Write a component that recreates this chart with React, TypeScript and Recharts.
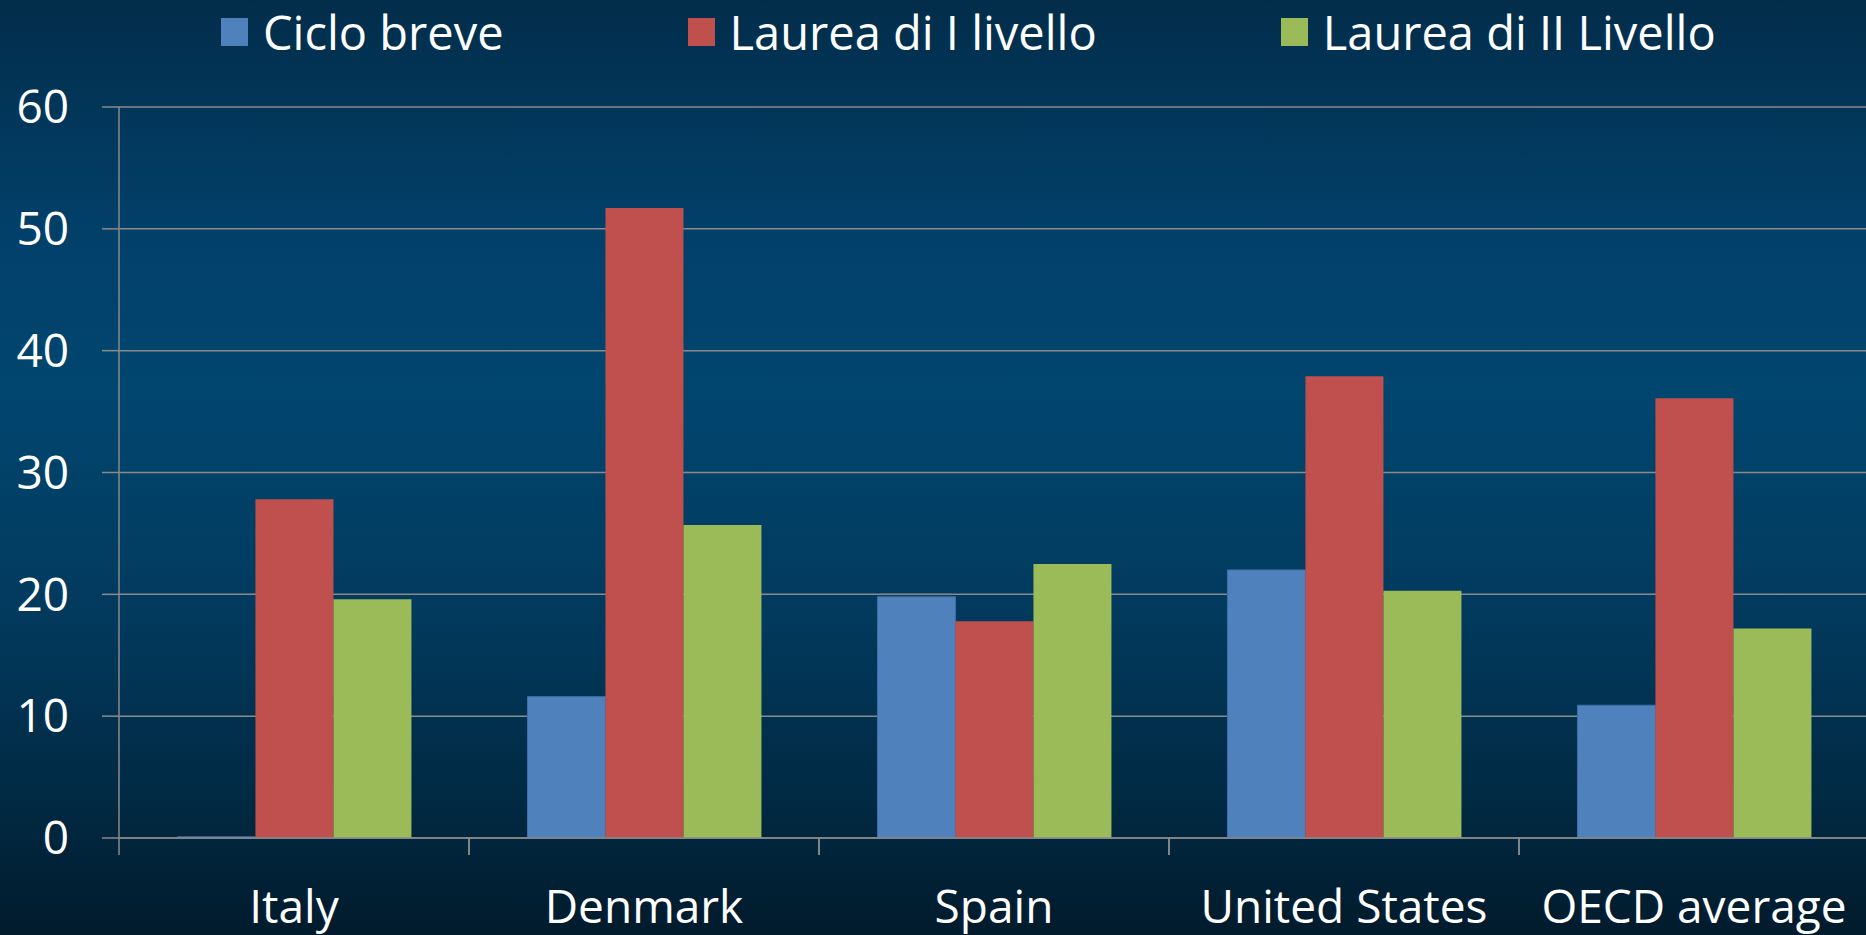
import { Bar, BarChart, CartesianGrid, Legend, XAxis, YAxis } from "recharts";

const countries = ["Italy", "Denmark", "Spain", "United States", "OECD average"];
const cicloBreve = [0.1, 11.6, 19.8, 22.0, 10.9];
const laureaPrimo = [27.8, 51.7, 17.8, 37.9, 36.1];
const laureaSecondo = [19.6, 25.7, 22.5, 20.3, 17.2];
const yTicks = [0, 10, 20, 30, 40, 50, 60];

const seriesNames = ["Ciclo breve", "Laurea di I livello", "Laurea di II Livello"];
const seriesColors = ["#4f81bd", "#c0504d", "#9bbb59"];

const rows = countries.map((country, i) => ({
  country,
  breve: cicloBreve[i],
  primo: laureaPrimo[i],
  secondo: laureaSecondo[i],
}));

const fontFamily = '"Segoe UI", "Open Sans", sans-serif';
const gridColor = "#8a8a8a";
const xTickSize = 17;
const xTickMargin = 35;

function renderLegend() {
  return (
    <div
      style={{
        display: "flex",
        alignItems: "center",
        gap: 184,
        paddingLeft: 221,
        paddingTop: 8,
        fontFamily,
        fontSize: 47,
        color: "#ffffff",
      }}
    >
      {seriesNames.map((name, i) => (
        <div key={name} style={{ display: "flex", alignItems: "center", gap: 15 }}>
          <span style={{ width: 27, height: 28, background: seriesColors[i], display: "inline-block" }} />
          <span style={{ lineHeight: "48px" }}>{name}</span>
        </div>
      ))}
    </div>
  );
}

// category label plus the tick mark on the left border of its band (Excel style)
function CategoryTick(props: any) {
  const { x, y, payload } = props;
  const half = payload.offset ?? 0;
  const axisY = y - xTickSize - xTickMargin;
  return (
    <g>
      <line x1={x - half} x2={x - half} y1={axisY} y2={axisY + xTickSize} stroke={gridColor} strokeWidth={1.5} />
      <line x1={x + half} x2={x + half} y1={axisY} y2={axisY + xTickSize} stroke={gridColor} strokeWidth={1.5} />
      <text x={x} y={y} dy="0.71em" textAnchor="middle" fill="#ffffff" fontSize={46} fontFamily={fontFamily}>
        {payload.value}
      </text>
    </g>
  );
}

export default function App() {
  return (
    <div
      style={{
        position: "fixed",
        top: 0,
        left: 0,
        width: 1866,
        height: 935,
        overflow: "hidden",
        background: "linear-gradient(180deg, #022d4a 0%, #02406a 25%, #01466f 42%, #023a5e 65%, #012a44 85%, #011b2c 100%)",
      }}
    >
      <BarChart
        width={1872}
        height={935}
        data={rows}
        margin={{ top: 0, right: 3, bottom: 0, left: 0 }}
        barCategoryGap="16.7%"
        barGap={0}
      >
        <Legend verticalAlign="top" align="left" height={107} content={renderLegend} />
        <CartesianGrid vertical={false} stroke={gridColor} strokeWidth={1.5} />
        <XAxis
          dataKey="country"
          axisLine={{ stroke: gridColor, strokeWidth: 1.5 }}
          tickLine={false}
          tickSize={xTickSize}
          tickMargin={xTickMargin}
          height={97}
          interval={0}
          tick={<CategoryTick />}
        />
        <YAxis
          domain={[0, 60]}
          ticks={yTicks}
          width={119}
          axisLine={{ stroke: gridColor, strokeWidth: 1.5 }}
          tickLine={{ stroke: gridColor, strokeWidth: 1.5 }}
          tickSize={17}
          tickMargin={33}
          tick={{ fill: "#ffffff", fontSize: 46, fontFamily }}
        />
        <Bar dataKey="breve" name={seriesNames[0]} fill={seriesColors[0]} stroke="#3f6fa6" strokeWidth={1} isAnimationActive={false} />
        <Bar dataKey="primo" name={seriesNames[1]} fill={seriesColors[1]} isAnimationActive={false} />
        <Bar dataKey="secondo" name={seriesNames[2]} fill={seriesColors[2]} isAnimationActive={false} />
      </BarChart>
    </div>
  );
}
